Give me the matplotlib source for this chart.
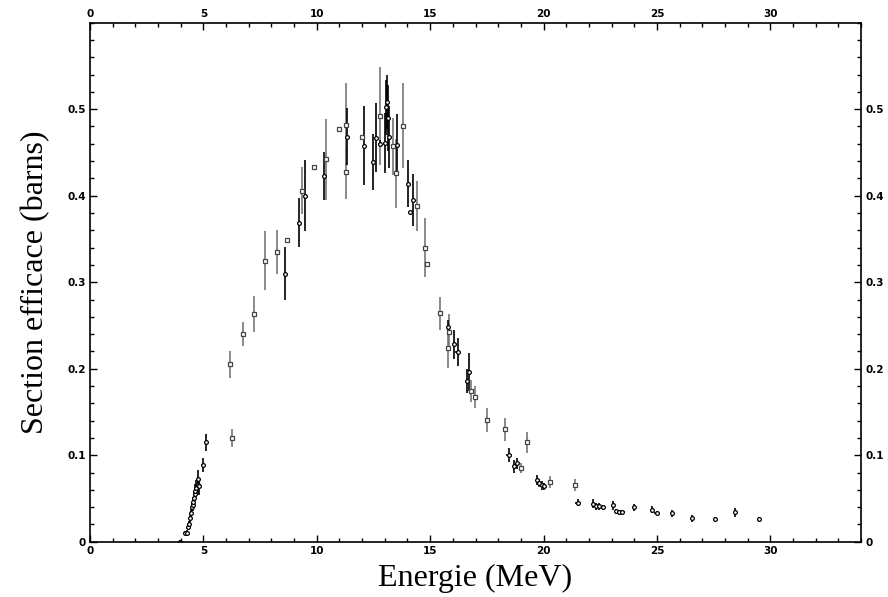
import matplotlib.pyplot as plt
from matplotlib.ticker import MultipleLocator, FuncFormatter

# dataset 1: black bars, open circles
e1 = [3.96, 4.20, 4.28, 4.33, 4.36, 4.42, 4.45, 4.49, 4.52, 4.56, 4.59, 4.62, 4.65,
      4.69, 4.74, 4.77, 4.80, 4.97, 5.12, 8.60, 9.21, 9.48, 10.31, 11.34, 12.07,
      12.50, 12.62, 12.79, 13.01, 13.04, 13.08, 13.16, 13.20, 13.54, 14.04, 14.10,
      14.23, 15.79, 16.04, 16.21, 16.61, 16.70, 18.46, 18.68, 18.84, 19.73, 19.81,
      19.91, 20.00, 21.51, 22.20, 22.33, 22.45, 22.62, 23.08, 23.21, 23.33, 23.47,
      23.99, 24.79, 24.99, 25.67, 26.55, 27.58, 28.46, 29.48]
s1 = [0.000, 0.010, 0.010, 0.017, 0.020, 0.027, 0.033, 0.040, 0.042, 0.046, 0.050, 0.055, 0.059,
      0.062, 0.065, 0.072, 0.064, 0.089, 0.115, 0.310, 0.369, 0.400, 0.423, 0.468, 0.458,
      0.439, 0.467, 0.460, 0.461, 0.502, 0.508, 0.490, 0.468, 0.459, 0.414, 0.381,
      0.395, 0.248, 0.228, 0.219, 0.186, 0.196, 0.100, 0.087, 0.0905, 0.071, 0.068,
      0.065, 0.064, 0.045, 0.044, 0.041, 0.041, 0.040, 0.042, 0.035, 0.034, 0.034,
      0.040, 0.037, 0.033, 0.033, 0.027, 0.026, 0.034, 0.026]
ds1 = [0.002, 0.002, 0.003, 0.004, 0.004, 0.004, 0.005, 0.005, 0.006, 0.006, 0.007, 0.008, 0.008,
       0.009, 0.010, 0.011, 0.010, 0.008, 0.010, 0.031, 0.028, 0.041, 0.028, 0.033, 0.046,
       0.032, 0.040, 0.004, 0.035, 0.032, 0.031, 0.038, 0.036, 0.035, 0.027, 0.0,
       0.030, 0.008, 0.017, 0.016, 0.014, 0.022, 0.008, 0.007, 0.006, 0.006, 0.005,
       0.005, 0.004, 0.004, 0.005, 0.004, 0.004, 0.003, 0.005, 0.003, 0.003, 0.003,
       0.004, 0.004, 0.002, 0.004, 0.004, 0.003, 0.005, 0.003]
de1 = [0.0, 0.12, 0.0, 0.0, 0.0, 0.0, 0.0, 0.0, 0.0, 0.0, 0.0, 0.0, 0.0,
       0.0, 0.0, 0.0, 0.0, 0.08, 0.06, 0.0, 0.08, 0.0, 0.0, 0.0, 0.0,
       0.0, 0.0, 0.10, 0.0, 0.0, 0.0, 0.0, 0.0, 0.10, 0.0, 0.0,
       0.0, 0.0, 0.0, 0.10, 0.0, 0.0, 0.10, 0.0, 0.0, 0.0, 0.0,
       0.0, 0.10, 0.12, 0.0, 0.0, 0.0, 0.10, 0.0, 0.0, 0.0, 0.10,
       0.0, 0.0, 0.10, 0.0, 0.0, 0.0, 0.0, 0.0]

# dataset 2: grey bars, small squares
e2 = [6.16, 6.24, 6.73, 7.22, 7.70, 8.26, 8.67, 9.36, 9.87, 10.39, 10.97, 11.27, 11.30,
      12.00, 12.79, 13.38, 13.48, 13.78, 14.44, 14.79, 14.86, 15.45, 15.80, 15.85,
      16.81, 16.97, 17.50, 18.28, 19.00, 19.29, 20.30, 21.39]
s2 = [0.205, 0.120, 0.240, 0.263, 0.325, 0.335, 0.349, 0.406, 0.433, 0.442, 0.477, 0.427, 0.482,
      0.468, 0.492, 0.457, 0.426, 0.481, 0.388, 0.340, 0.321, 0.264, 0.224, 0.243,
      0.174, 0.167, 0.141, 0.130, 0.085, 0.115, 0.069, 0.066]
ds2 = [0.016, 0.010, 0.014, 0.021, 0.034, 0.025, 0.0, 0.027, 0.0, 0.047, 0.0, 0.031, 0.048,
       0.0, 0.057, 0.033, 0.040, 0.049, 0.029, 0.034, 0.0, 0.019, 0.023, 0.020,
       0.013, 0.013, 0.014, 0.013, 0.006, 0.012, 0.007, 0.007]

fig = plt.figure(figsize=(8.88, 5.97), dpi=100)
ax = fig.add_axes([0.1014, 0.0926, 0.8682, 0.8694])

ax.errorbar(e2, s2, yerr=ds2, fmt='s', ms=2.4, mfc='white', mec='#444444', mew=0.9,
            ecolor='#777777', elinewidth=1.2, capsize=0)
ax.errorbar(e1, s1, yerr=ds1, xerr=de1, fmt='o', ms=2.7, mfc='white', mec='black', mew=0.9,
            ecolor='black', elinewidth=1.2, capsize=0)

ax.set_xlim(0, 34)
ax.set_ylim(0, 0.6)
ax.set_xticks([0, 5, 10, 15, 20, 25, 30])
ax.set_yticks([0, 0.1, 0.2, 0.3, 0.4, 0.5])
ax.xaxis.set_minor_locator(MultipleLocator(1))
ax.yaxis.set_minor_locator(MultipleLocator(0.02))
ax.yaxis.set_major_formatter(FuncFormatter(lambda v, p: '0' if v == 0 else f'{v:.1f}'))

ax.tick_params(which='both', direction='in', top=True, right=True,
               labeltop=True, labelright=True, width=1.0, labelsize=7.5, pad=3)
ax.tick_params(which='major', length=5)
ax.tick_params(which='minor', length=3)
for lbl in ax.get_xticklabels() + ax.get_yticklabels():
    lbl.set_fontweight('bold')
for side in ax.spines.values():
    side.set_linewidth(1.2)

ax.set_xlabel('Energie (MeV)', family='Liberation Serif', fontsize=23, labelpad=6)
ax.set_ylabel('Section efficace (barns)', family='Liberation Serif', fontsize=23, labelpad=12)

fig.savefig('out.png', dpi=100)
